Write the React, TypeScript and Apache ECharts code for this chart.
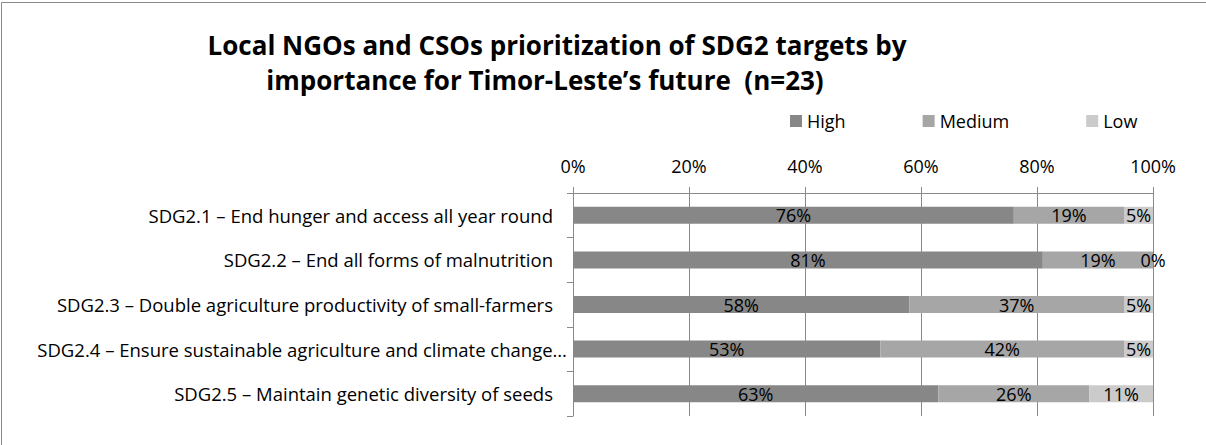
import React, { useEffect, useRef } from "react";
import * as echarts from "echarts";

const titleLines = [
  "Local NGOs and CSOs prioritization of SDG2 targets by",
  "importance for Timor-Leste’s future  (n=23)",
];
const categories = [
  "SDG2.1 – End hunger and access all year round",
  "SDG2.2 – End all forms of malnutrition",
  "SDG2.3 – Double agriculture productivity of small-farmers",
  "SDG2.4 – Ensure sustainable agriculture and climate change…",
  "SDG2.5 – Maintain genetic diversity of seeds",
];
const seriesNames = ["High", "Medium", "Low"];
const high = [76, 81, 58, 53, 63];
const medium = [19, 19, 37, 42, 26];
const low = [5, 0, 5, 5, 11];
const colors = ["#878787", "#a6a6a6", "#cbcbcb"];

const FONT = "'Open Sans', Lato, sans-serif";

export default function App() {
  const ref = useRef<HTMLDivElement>(null);
  useEffect(() => {
    if (!ref.current) return;
    const chart = echarts.init(ref.current, null, { renderer: "svg" });
    const values = [high, medium, low];
    chart.setOption({
      animation: false,
      backgroundColor: "#ffffff",
      textStyle: { fontFamily: FONT },
      graphic: [
        {
          type: "rect",
          silent: true,
          shape: { x: 1.5, y: 2.5, width: 1400, height: 600 },
          style: { fill: "none", stroke: "#8a8a8a", lineWidth: 1 },
        },
        {
          type: "text",
          x: 557,
          y: 45,
          style: {
            text: titleLines[0],
            textAlign: "center",
            textVerticalAlign: "middle",
            fontFamily: FONT,
            fontWeight: "bold",
            fontSize: 26,
            fill: "#000",
          },
        },
        {
          type: "text",
          x: 545,
          y: 80,
          style: {
            text: titleLines[1],
            textAlign: "center",
            textVerticalAlign: "middle",
            fontFamily: FONT,
            fontWeight: "bold",
            fontSize: 26,
            fill: "#000",
          },
        },
      ],
      legend: {
        left: 790,
        top: 112,
        padding: 0,
        itemWidth: 12,
        itemHeight: 12,
        itemGap: 77,
        icon: "rect",
        textStyle: { fontFamily: FONT, fontSize: 18, color: "#000" },
        data: seriesNames,
      },
      grid: { left: 573, right: 53, top: 193, bottom: 29, containLabel: false },
      xAxis: {
        type: "value",
        position: "top",
        min: 0,
        max: 100,
        interval: 20,
        axisLine: { show: true, lineStyle: { color: "#898989" } },
        axisTick: { show: true, length: 6, lineStyle: { color: "#898989" } },
        splitLine: { show: true, lineStyle: { color: "#898989" } },
        axisLabel: {
          formatter: "{value}%",
          fontFamily: FONT,
          fontSize: 18,
          color: "#000",
          margin: 18,
        },
      },
      yAxis: {
        type: "category",
        inverse: true,
        data: categories,
        axisLine: { show: true, lineStyle: { color: "#898989" } },
        axisTick: { show: true, length: 6, lineStyle: { color: "#898989" } },
        axisLabel: {
          fontFamily: FONT,
          fontSize: 18.5,
          color: "#000",
          margin: 6,
          formatter: (v: string) => (v.endsWith("…") ? `{b|${v}}` : `{a|${v}}`),
          rich: {
            a: { fontFamily: FONT, fontSize: 18.5, color: "#000", padding: [0, 14, 0, 0] },
            b: { fontFamily: FONT, fontSize: 18.5, color: "#000" },
          },
        },
      },
      series: seriesNames.map((name, i) => ({
        name,
        type: "bar",
        stack: "total",
        barWidth: 17,
        data: values[i],
        itemStyle: { color: colors[i] },
        label: {
          show: true,
          position: "inside",
          formatter: "{c}%",
          fontFamily: FONT,
          fontSize: 18,
          color: "#000",
        },
      })),
    });
    return () => chart.dispose();
  }, []);
  return (
    <div
      ref={ref}
      style={{ position: "absolute", left: 0, top: 0, width: 1206, height: 445 }}
    />
  );
}
